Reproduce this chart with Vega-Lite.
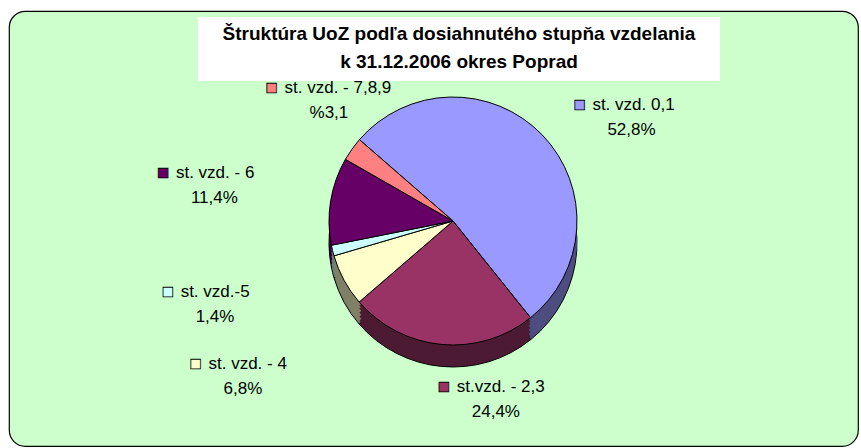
{
  "$schema": "https://vega.github.io/schema/vega-lite/v6.json",
  "background": "white",
  "padding": {"left": 9, "top": 11, "right": 3, "bottom": 2},
  "autosize": {"type": "none"},
  "width": 849,
  "height": 435,
  "view": {"fill": "#CCFFCC", "stroke": "#000000", "strokeWidth": 1.2, "cornerRadius": 16},
  "config": {
    "font": "Liberation Sans",
    "text": {"font": "Liberation Sans"}
  },
  "data": {
    "values": [
      {"cat": "st. vzd. 0,1", "value": 52.8, "pct": "52,8%", "order": 1},
      {"cat": "st.vzd. - 2,3", "value": 24.4, "pct": "24,4%", "order": 2},
      {"cat": "st. vzd. - 4", "value": 6.8, "pct": "6,8%", "order": 3},
      {"cat": "st. vzd.-5", "value": 1.4, "pct": "1,4%", "order": 4},
      {"cat": "st. vzd. - 6", "value": 11.4, "pct": "11,4%", "order": 5},
      {"cat": "st. vzd. - 7,8,9", "value": 3.1, "pct": "%3,1", "order": 6}
    ]
  },
  "encoding": {
    "theta": {"field": "value", "type": "quantitative", "stack": true, "scale": {"range": [5.428, 11.711]}},
    "order": {"field": "order", "type": "quantitative", "sort": "ascending"}
  },
  "layer": [
    {
      "mark": {"type": "arc", "outerRadius": 124, "xOffset": 19.5, "yOffset": 14.5, "stroke": "#000000", "strokeWidth": 1},
      "encoding": {
        "fill": {
          "field": "cat", "type": "nominal",
          "scale": {"domain": ["st. vzd. 0,1", "st.vzd. - 2,3", "st. vzd. - 4", "st. vzd.-5", "st. vzd. - 6", "st. vzd. - 7,8,9"], "range": ["#4D4D80", "#4D1A33", "#808066", "#668080", "#330033", "#804040"]},
          "legend": {
            "orient": "none",
            "legendX": 189,
            "legendY": 6,
            "values": ["st. vzd. 0,1"],
            "title": ["Štruktúra UoZ  podľa dosiahnutého stupňa vzdelania", "k 31.12.2006 okres Poprad"],
            "titleFont": "Liberation Sans",
            "titleFontSize": 19,
            "titleFontWeight": "bold",
            "titleColor": "#000000",
            "titleLimit": 800,
            "titleLineHeight": 28,
            "titleAlign": "center",
            "titleAnchor": "middle",
            "titlePadding": 0,
            "symbolSize": 1,
            "symbolOpacity": 0,
            "symbolStrokeWidth": 0,
            "labelFontSize": 1,
            "labelOpacity": 0,
            "labelOffset": 500,
            "rowPadding": 0,
            "fillColor": "#FFFFFF",
            "padding": 8
          }
        }
      }
    },
    {
      "mark": {"type": "arc", "outerRadius": 124, "xOffset": 19.5, "yOffset": 11},
      "encoding": {"fill": {"field": "cat", "type": "nominal"}}
    },
    {
      "mark": {"type": "arc", "outerRadius": 124, "xOffset": 19.5, "yOffset": 7},
      "encoding": {"fill": {"field": "cat", "type": "nominal"}}
    },
    {
      "mark": {"type": "arc", "outerRadius": 124, "xOffset": 19.5, "yOffset": 3},
      "encoding": {"fill": {"field": "cat", "type": "nominal"}}
    },
    {
      "mark": {"type": "arc", "outerRadius": 124, "xOffset": 19.5, "yOffset": -1},
      "encoding": {"fill": {"field": "cat", "type": "nominal"}}
    },
    {
      "mark": {"type": "arc", "outerRadius": 124, "xOffset": 19.5, "yOffset": -4},
      "encoding": {"fill": {"field": "cat", "type": "nominal"}}
    },
    {
      "mark": {"type": "arc", "outerRadius": 124, "xOffset": 19.5, "yOffset": -7.5, "stroke": "#000000", "strokeWidth": 1},
      "encoding": {"color": {"field": "cat", "type": "nominal", "legend": null, "scale": {"domain": ["st. vzd. 0,1", "st.vzd. - 2,3", "st. vzd. - 4", "st. vzd.-5", "st. vzd. - 6", "st. vzd. - 7,8,9"], "range": ["#9999FF", "#993366", "#FFFFCC", "#CCFFFF", "#660066", "#FF8080"]}}}
    },
    {
      "mark": {"type": "text", "text": "■", "radius": 167, "xOffset": 19.5, "yOffset": -7.5, "align": "left", "baseline": "middle", "fontSize": 20, "stroke": "#000000", "strokeWidth": 0.8},
      "encoding": {
        "color": {"field": "cat", "type": "nominal", "legend": null},
        "opacity": {"condition": {"test": "datum.order <= 2", "value": 1}, "value": 0}
      }
    },
    {
      "mark": {"type": "text", "radius": 167, "xOffset": 19.5, "yOffset": -7.5, "dx": 19, "align": "left", "baseline": "middle", "fontSize": 17, "color": "#000000"},
      "encoding": {
        "text": {"field": "cat", "type": "nominal"},
        "opacity": {"condition": {"test": "datum.order <= 2", "value": 1}, "value": 0}
      }
    },
    {
      "mark": {"type": "text", "radius": 167, "xOffset": 19.5, "yOffset": -7.5, "dx": 34, "dy": 25, "align": "left", "baseline": "middle", "fontSize": 17, "color": "#000000"},
      "encoding": {
        "text": {"field": "pct", "type": "nominal"},
        "opacity": {"condition": {"test": "datum.order <= 2", "value": 1}, "value": 0}
      }
    },
    {
      "mark": {"type": "text", "text": "■", "radius": 300, "xOffset": 19.5, "yOffset": -7.5, "align": "left", "baseline": "middle", "fontSize": 20, "stroke": "#000000", "strokeWidth": 0.8},
      "encoding": {
        "color": {"field": "cat", "type": "nominal", "legend": null},
        "opacity": {"condition": {"test": "datum.order >= 3 && datum.order <= 5", "value": 1}, "value": 0}
      }
    },
    {
      "mark": {"type": "text", "radius": 300, "xOffset": 19.5, "yOffset": -7.5, "dx": 19, "align": "left", "baseline": "middle", "fontSize": 17, "color": "#000000"},
      "encoding": {
        "text": {"field": "cat", "type": "nominal"},
        "opacity": {"condition": {"test": "datum.order >= 3 && datum.order <= 5", "value": 1}, "value": 0}
      }
    },
    {
      "mark": {"type": "text", "radius": 300, "xOffset": 19.5, "yOffset": -7.5, "dx": 34, "dy": 25, "align": "left", "baseline": "middle", "fontSize": 17, "color": "#000000"},
      "encoding": {
        "text": {"field": "pct", "type": "nominal"},
        "opacity": {"condition": {"test": "datum.order >= 3 && datum.order <= 5", "value": 1}, "value": 0}
      }
    },
    {
      "mark": {"type": "text", "text": "■", "radius": 230, "xOffset": 19.5, "yOffset": -7.5, "align": "left", "baseline": "middle", "fontSize": 20, "stroke": "#000000", "strokeWidth": 0.8},
      "encoding": {
        "color": {"field": "cat", "type": "nominal", "legend": null},
        "opacity": {"condition": {"test": "datum.order == 6", "value": 1}, "value": 0}
      }
    },
    {
      "mark": {"type": "text", "radius": 230, "xOffset": 19.5, "yOffset": -7.5, "dx": 19, "align": "left", "baseline": "middle", "fontSize": 17, "color": "#000000"},
      "encoding": {
        "text": {"field": "cat", "type": "nominal"},
        "opacity": {"condition": {"test": "datum.order == 6", "value": 1}, "value": 0}
      }
    },
    {
      "mark": {"type": "text", "radius": 230, "xOffset": 19.5, "yOffset": -7.5, "dx": 44, "dy": 25, "align": "left", "baseline": "middle", "fontSize": 17, "color": "#000000"},
      "encoding": {
        "text": {"field": "pct", "type": "nominal"},
        "opacity": {"condition": {"test": "datum.order == 6", "value": 1}, "value": 0}
      }
    }
  ]
}
